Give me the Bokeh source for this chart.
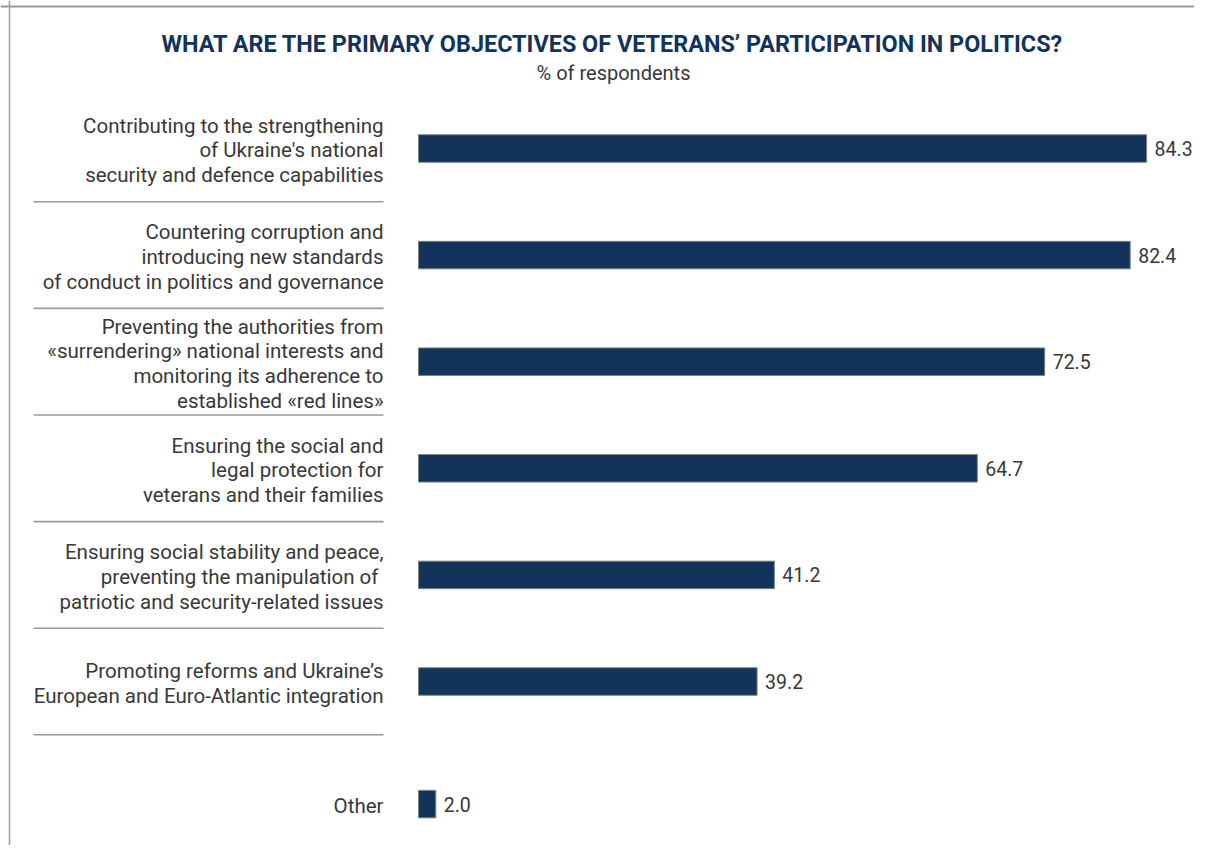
from bokeh.plotting import figure
from bokeh.models import Range1d, Label, Span, ColumnDataSource
from bokeh.core.properties import value
from bokeh.embed import file_html
from bokeh.resources import INLINE

# ---- data ----
TITLE = "WHAT ARE THE PRIMARY OBJECTIVES OF VETERANS\u2019 PARTICIPATION IN POLITICS?"
SUBTITLE = "% of respondents"
categories = [
    "Contributing to the strengthening\nof Ukraine's national\nsecurity and defence capabilities",
    "Countering corruption and\nintroducing new standards\nof conduct in politics and governance",
    "Preventing the authorities from\n\u00absurrendering\u00bb national interests and\nmonitoring its adherence to\nestablished \u00abred lines\u00bb",
    "Ensuring the social and\nlegal protection for\nveterans and their families",
    "Ensuring social stability and peace,\npreventing the  manipulation of\npatriotic and security-related issues",
    "Promoting reforms and Ukraine\u2019s\nEuropean and Euro-Atlantic integration",
    "Other",
]
values = [84.3, 82.4, 72.5, 64.7, 41.2, 39.2, 2.0]

# ---- layout constants (pixels) ----
W, H = 1194, 845
PX_PER_UNIT_X = 8.637          # px per percentage point
ZERO_X = 418                   # px of value 0
ROW_PX = 106.6                 # px per row
FIRST_ROW_Y = 148              # px from top of first row centre
OTHER_GAP = 0.15               # extra gap before "Other"
BAR_PX = 27.5

NAVY = "#12335a"
TEXT = "#383838"

x_start = -ZERO_X / PX_PER_UNIT_X
x_end = (W - ZERO_X) / PX_PER_UNIT_X
y_end = FIRST_ROW_Y / ROW_PX
y_start = y_end - H / ROW_PX

n = len(categories)
ypos = [-(i + (OTHER_GAP if categories[i] == "Other" else 0)) for i in range(n)]

src = ColumnDataSource(dict(y=ypos, v=values, cat=categories,
                            lab=[f"{v:.1f}" for v in values]))

p = figure(width=W, height=H, output_backend="svg", toolbar_location=None,
           x_range=Range1d(x_start, x_end), y_range=Range1d(y_start, y_end),
           min_border=0, background_fill_color="white", border_fill_color="white")
p.axis.visible = False
p.grid.visible = False
p.outline_line_color = None

# bars
p.hbar(y="y", left=0, right="v", height=BAR_PX / ROW_PX, source=src,
       fill_color=NAVY, line_color="#7f7f7f", line_width=1)

# value labels
p.text(x="v", y="y", text="lab", source=src, x_offset=8,
       text_align="left", text_baseline="middle",
       text_font=value("Roboto"), text_font_size="19.5px", text_color=TEXT)

# category labels
p.text(x=0, y="y", text="cat", source=src, x_offset=-35, y_offset=2,
       text_align="right", text_baseline="middle", text_line_height=1.03,
       text_font=value("Roboto"), text_font_size="20.5px", text_color=TEXT)

# separators below each of the first six rows
sep_y = [ypos[i] - 0.5 for i in range(n - 1)]
sx0 = (33 - ZERO_X) / PX_PER_UNIT_X
sx1 = (383 - ZERO_X) / PX_PER_UNIT_X
p.segment(x0=[sx0] * len(sep_y), x1=[sx1] * len(sep_y), y0=sep_y, y1=sep_y,
          line_color="#9a9a9a", line_width=1.6)

# page frame lines (top and left)
p.add_layout(Span(location=y_end - 6 / ROW_PX, dimension="width",
                  line_color="#9a9a9a", line_width=2))
p.add_layout(Span(location=x_start + 9 / PX_PER_UNIT_X, dimension="height",
                  line_color="#9a9a9a", line_width=1.5))

# title & subtitle
p.add_layout(Label(x=612, y=H - 43, x_units="screen", y_units="screen",
                   text=TITLE, text_align="center", text_baseline="middle",
                   text_font="Roboto", text_font_style="bold",
                   text_font_size="23.4px", text_color=NAVY))
p.add_layout(Label(x=613, y=H - 72, x_units="screen", y_units="screen",
                   text=SUBTITLE, text_align="center", text_baseline="middle",
                   text_font="Roboto", text_font_size="20px", text_color=TEXT))

open("out.html", "w").write(file_html(p, INLINE))
